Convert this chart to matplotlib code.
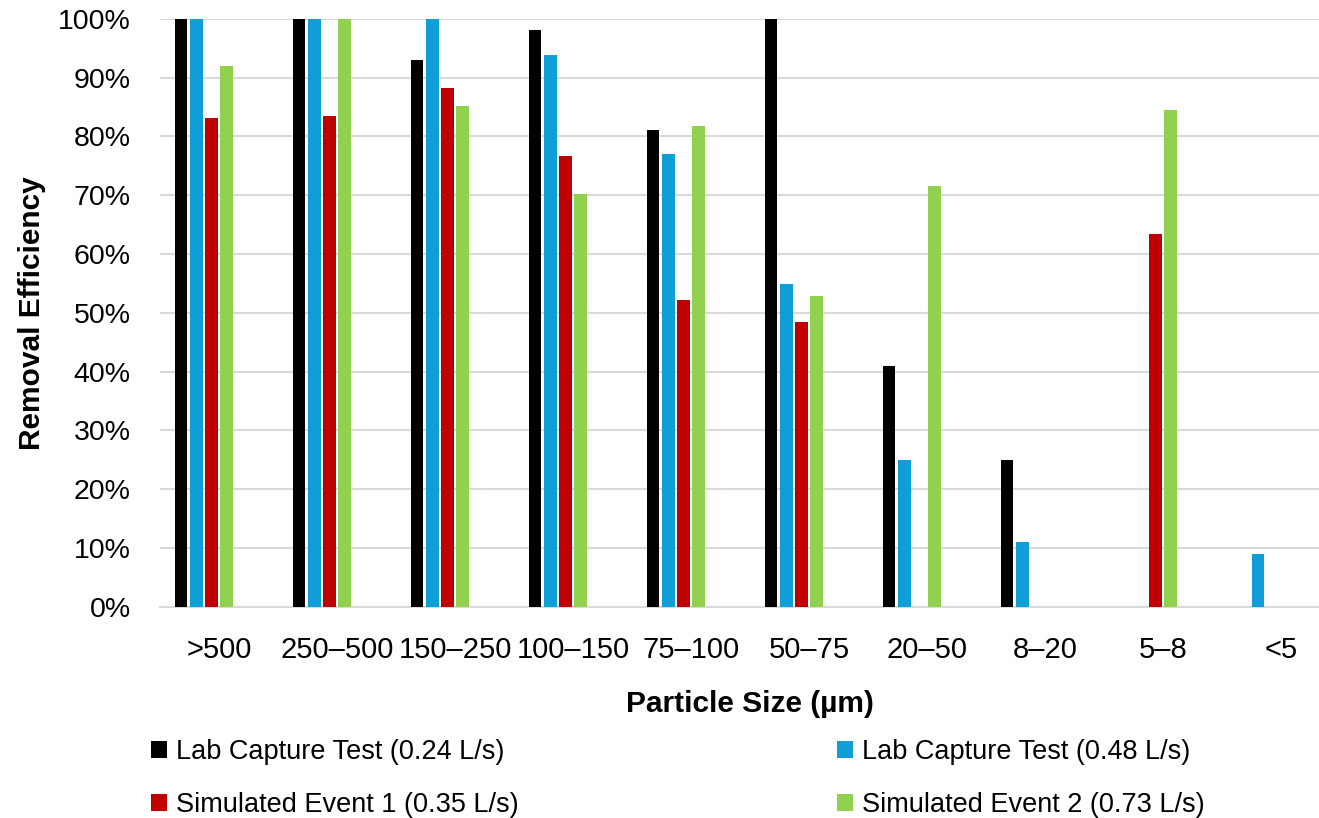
import numpy as np
import matplotlib
matplotlib.use("Agg")
import matplotlib.pyplot as plt
from matplotlib.ticker import PercentFormatter

plt.rcParams['font.family'] = ['Liberation Sans', 'DejaVu Sans']

# Particle size classes (µm)
categories = [">500", "250–500", "150–250", "100–150", "75–100",
              "50–75", "20–50", "8–20", "5–8", "<5"]

# Removal efficiency (%) per size class; nan = no bar reported
lab_024 = [100, 100, 93.0, 98.0, 81.1, 100, 40.9, 24.9, np.nan, np.nan]
lab_048 = [100, 100, 100, 93.9, 77.0, 54.9, 24.9, 11.0, np.nan, 9.0]
sim_ev1 = [83.1, 83.4, 88.2, 76.6, 52.2, 48.4, np.nan, np.nan, 63.4, np.nan]
sim_ev2 = [92.0, 100, 85.1, 70.2, 81.7, 52.8, 71.5, np.nan, 84.5, np.nan]

series_labels = ["Lab Capture Test (0.24 L/s)", "Lab Capture Test (0.48 L/s)",
                 "Simulated Event 1 (0.35 L/s)", "Simulated Event 2 (0.73 L/s)"]
series_values = [lab_024, lab_048, sim_ev1, sim_ev2]
series_colors = ["#000000", "#0F9ED5", "#C00000", "#92D050"]

y_ticks = list(range(0, 101, 10))

W, H = 1319, 818
fig = plt.figure(figsize=(W / 100, H / 100), dpi=100)
ax = fig.add_axes([160 / W, (H - 606.7) / H, 1180 / W, 588 / H])

# each size class reserves six bar slots; the four series fill the first four
n_slots = 6
slot = 15.2 / 118
bar_w = 12.6 / 118
x = np.arange(len(categories))
for k, (vals, lab, col) in enumerate(zip(series_values, series_labels, series_colors)):
    ax.bar(x + (k - (n_slots - 1) / 2) * slot, vals, width=bar_w, color=col,
           label=lab, zorder=3)

ax.set_xlim(-0.5, len(categories) - 0.5)
ax.set_ylim(0, 100)
ax.set_yticks(y_ticks)
ax.yaxis.set_major_formatter(PercentFormatter(decimals=0))
ax.set_xticks(x)
ax.set_xticklabels(categories)
ax.tick_params(axis='both', length=0, labelsize=20.5, colors='#000000')
ax.tick_params(axis='x', labelsize=21)
ax.tick_params(axis='y', pad=21)
ax.tick_params(axis='x', pad=21)

ax.grid(axis='y', color='#D9D9D9', linewidth=1.5, zorder=0)
for side in ['top', 'right', 'left']:
    ax.spines[side].set_visible(False)
ax.spines['bottom'].set_color('#D9D9D9')
ax.spines['bottom'].set_linewidth(1.5)

ax.set_ylabel("Removal Efficiency", fontsize=21.5, fontweight='bold')
ax.yaxis.set_label_coords(-0.097, 0.5)
ax.set_xlabel("Particle Size (µm)", fontsize=21.5, fontweight='bold', labelpad=19)

# legend reads row by row: the column-first fill order is rearranged
handles, labels = ax.get_legend_handles_labels()
order = [0, 2, 1, 3]
leg = fig.legend([handles[i] for i in order], [labels[i] for i in order],
                 ncol=2, loc='upper left',
                 bbox_to_anchor=(151 / W, 1 - 739 / H),
                 frameon=False, borderpad=0, borderaxespad=0,
                 handlelength=0.59, handleheight=0.59,
                 handletextpad=0.33, columnspacing=11.75, labelspacing=1.0,
                 prop={'size': 19.5})

fig.savefig("out.png", dpi=100)
